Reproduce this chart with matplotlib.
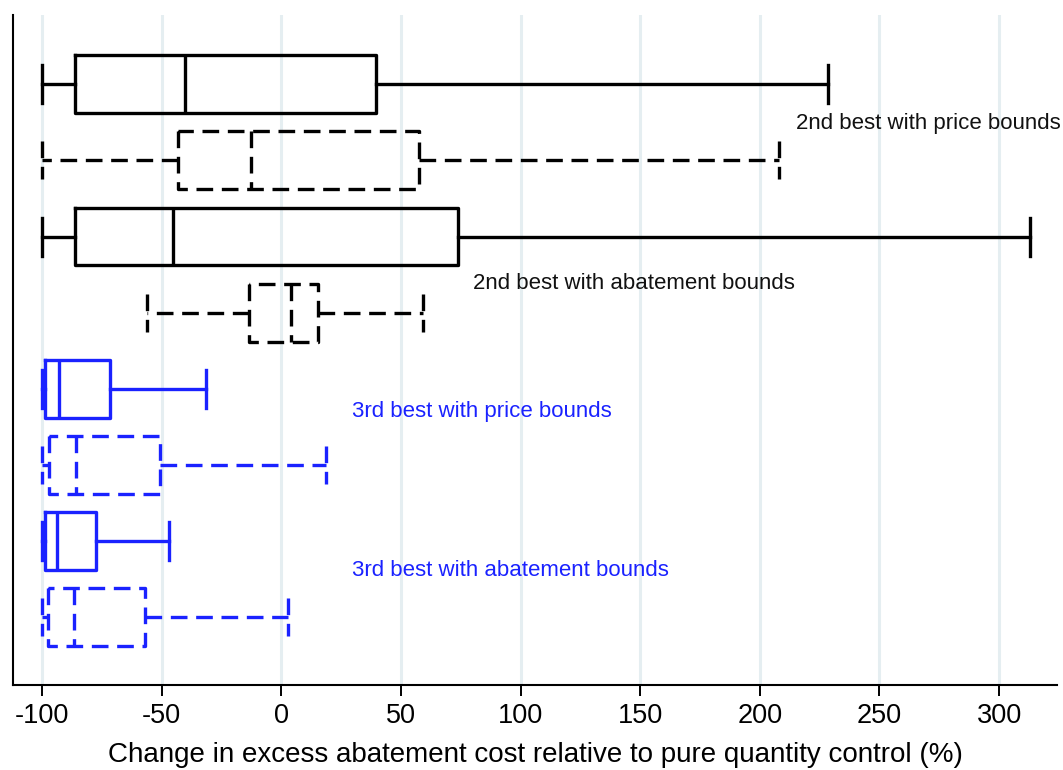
import matplotlib; matplotlib.use('Agg')
import matplotlib.pyplot as plt

plt.rcParams['font.family'] = ['Liberation Sans', 'DejaVu Sans']
plt.rcParams['axes.unicode_minus'] = False

# box statistics, top to bottom
names = ['2nd best price, solid', '2nd best price, dashed',
         '2nd best abatement, solid', '2nd best abatement, dashed',
         '3rd best price, solid', '3rd best price, dashed',
         '3rd best abatement, solid', '3rd best abatement, dashed']
whislo = [-100, -100, -100, -56.2, -100, -100, -100, -100]
q1     = [-86.3, -43.2, -86.3, -13.6, -98.8, -97.2, -98.8, -97.4]
med    = [-40.3, -12.7, -45.3, 4.0, -92.8, -85.6, -93.7, -86.7]
q3     = [39.5, 57.5, 73.8, 15.3, -71.4, -50.8, -77.5, -56.8]
whishi = [228.4, 207.9, 312.8, 59.1, -31.3, 18.5, -47.1, 2.8]
dashed = [False, True, False, True, False, True, False, True]
blue   = [False, False, False, False, True, True, True, True]

labels = ['2nd best with price bounds', '2nd best with abatement bounds',
          '3rd best with price bounds', '3rd best with abatement bounds']
label_x = [215, 80, 29.5, 29.5]
label_y = [1.51, 3.62, 5.30, 7.38]
label_blue = [False, False, True, True]

BLUE = '#1a22ff'
DASH = (0, (5.0, 2.6))

f = plt.figure(figsize=(10.63, 7.70), dpi=100)
ax = f.add_axes([13/1063, 85/770, 1044/1063, 670/770])

for i in range(len(names)):
    c = BLUE if blue[i] else 'black'
    ls = DASH if dashed[i] else '-'
    lp = dict(color=c, lw=2.4, linestyle=ls)
    st = [dict(label=names[i], whislo=whislo[i], q1=q1[i], med=med[i],
               q3=q3[i], whishi=whishi[i], fliers=[])]
    ax.bxp(st, positions=[i + 1], widths=0.76, vert=False, showfliers=False,
           capwidths=0.5, boxprops=lp, whiskerprops=lp, capprops=lp,
           medianprops=lp, manage_ticks=False)

for t, x, y, b in zip(labels, label_x, label_y, label_blue):
    ax.text(x, y, t, fontsize=16, color=BLUE if b else '#111111',
            ha='left', va='center')

ax.set_xlim(-112.1, 324.2)
ax.set_ylim(8.89, 0.09)
ax.set_xticks(range(-100, 301, 50))
ax.set_yticks([])
ax.xaxis.grid(True, color='#e5eef1', lw=2.2)
ax.set_axisbelow(True)
for s in ['top', 'right']:
    ax.spines[s].set_visible(False)
for s in ['left', 'bottom']:
    ax.spines[s].set_linewidth(1.5)
ax.tick_params(axis='x', direction='out', length=8, width=1.4, pad=5,
               labelsize=19.5)
ax.set_xlabel('Change in excess abatement cost relative to pure quantity control (%)',
              fontsize=20, labelpad=9)

plt.savefig('out.png', dpi=100, facecolor='w')
